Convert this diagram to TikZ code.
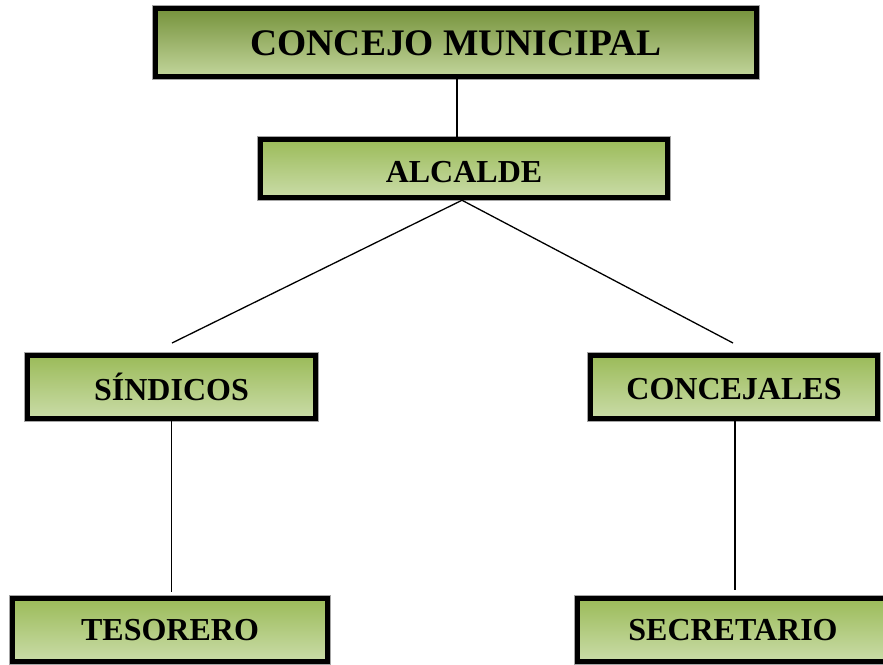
\documentclass[tikz,border=0pt]{standalone}
\usepackage{fontspec}
\setmainfont{Liberation Serif}
\definecolor{gtopA}{HTML}{76923C}
\definecolor{gbotA}{HTML}{C2D69B}
\definecolor{gtopB}{HTML}{9BBB59}
\definecolor{gbotB}{HTML}{CADCA8}
\newcommand{\lowertxt}[2]{\raisebox{-#1}[\height][\depth]{#2}}
\begin{document}
\begin{tikzpicture}[x=1pt,y=-1pt,
  orgbox/.style={draw=black, line width=5.5pt, inner sep=0pt,
    preaction={draw=gray!70, line width=7pt},
    top color=gtopB, bottom color=gbotB,
    font=\fontsize{32}{34}\selectfont\bfseries},
  topbox/.style={orgbox, top color=gtopA, bottom color=gbotA,
    font=\fontsize{37.5}{40}\selectfont\bfseries},
  link/.style={draw=black, line width=1.3pt}]
\useasboundingbox (0,0) rectangle (883,664);
\node[topbox, minimum width=601pt, minimum height=68pt] (cm) at (456,42.5) {\lowertxt{1pt}{CONCEJO MUNICIPAL}};
\node[orgbox, minimum width=407pt, minimum height=58pt] (al) at (464,168.5) {\lowertxt{3.5pt}{ALCALDE}};
\node[orgbox, minimum width=288pt, minimum height=63pt] (sin) at (171.5,387) {SÍNDICOS};
\node[orgbox, minimum width=287pt, minimum height=63pt] (con) at (734,387) {\lowertxt{2pt}{CONCEJALES}};
\node[orgbox, minimum width=315pt, minimum height=63pt] (tes) at (170,630) {TESORERO};
\node[orgbox, minimum width=311pt, minimum height=63pt] (sec) at (733,630) {SECRETARIO};
\coordinate (aL) at (172,343);
\coordinate (aR) at (733,343);
\coordinate (tS) at (171.5,592);
\coordinate (tC) at (735,590);
\draw[link] ([xshift=1pt]cm.south) -- ([xshift=1pt]cm.south |- al.north);
\draw[link] ([xshift=-2pt]al.south) -- (aL);
\draw[link] ([xshift=-2pt]al.south) -- (aR);
\draw[link] (sin.south) -- (tS);
\draw[link] ([xshift=1pt]con.south) -- (tC);
\end{tikzpicture}
\end{document}
